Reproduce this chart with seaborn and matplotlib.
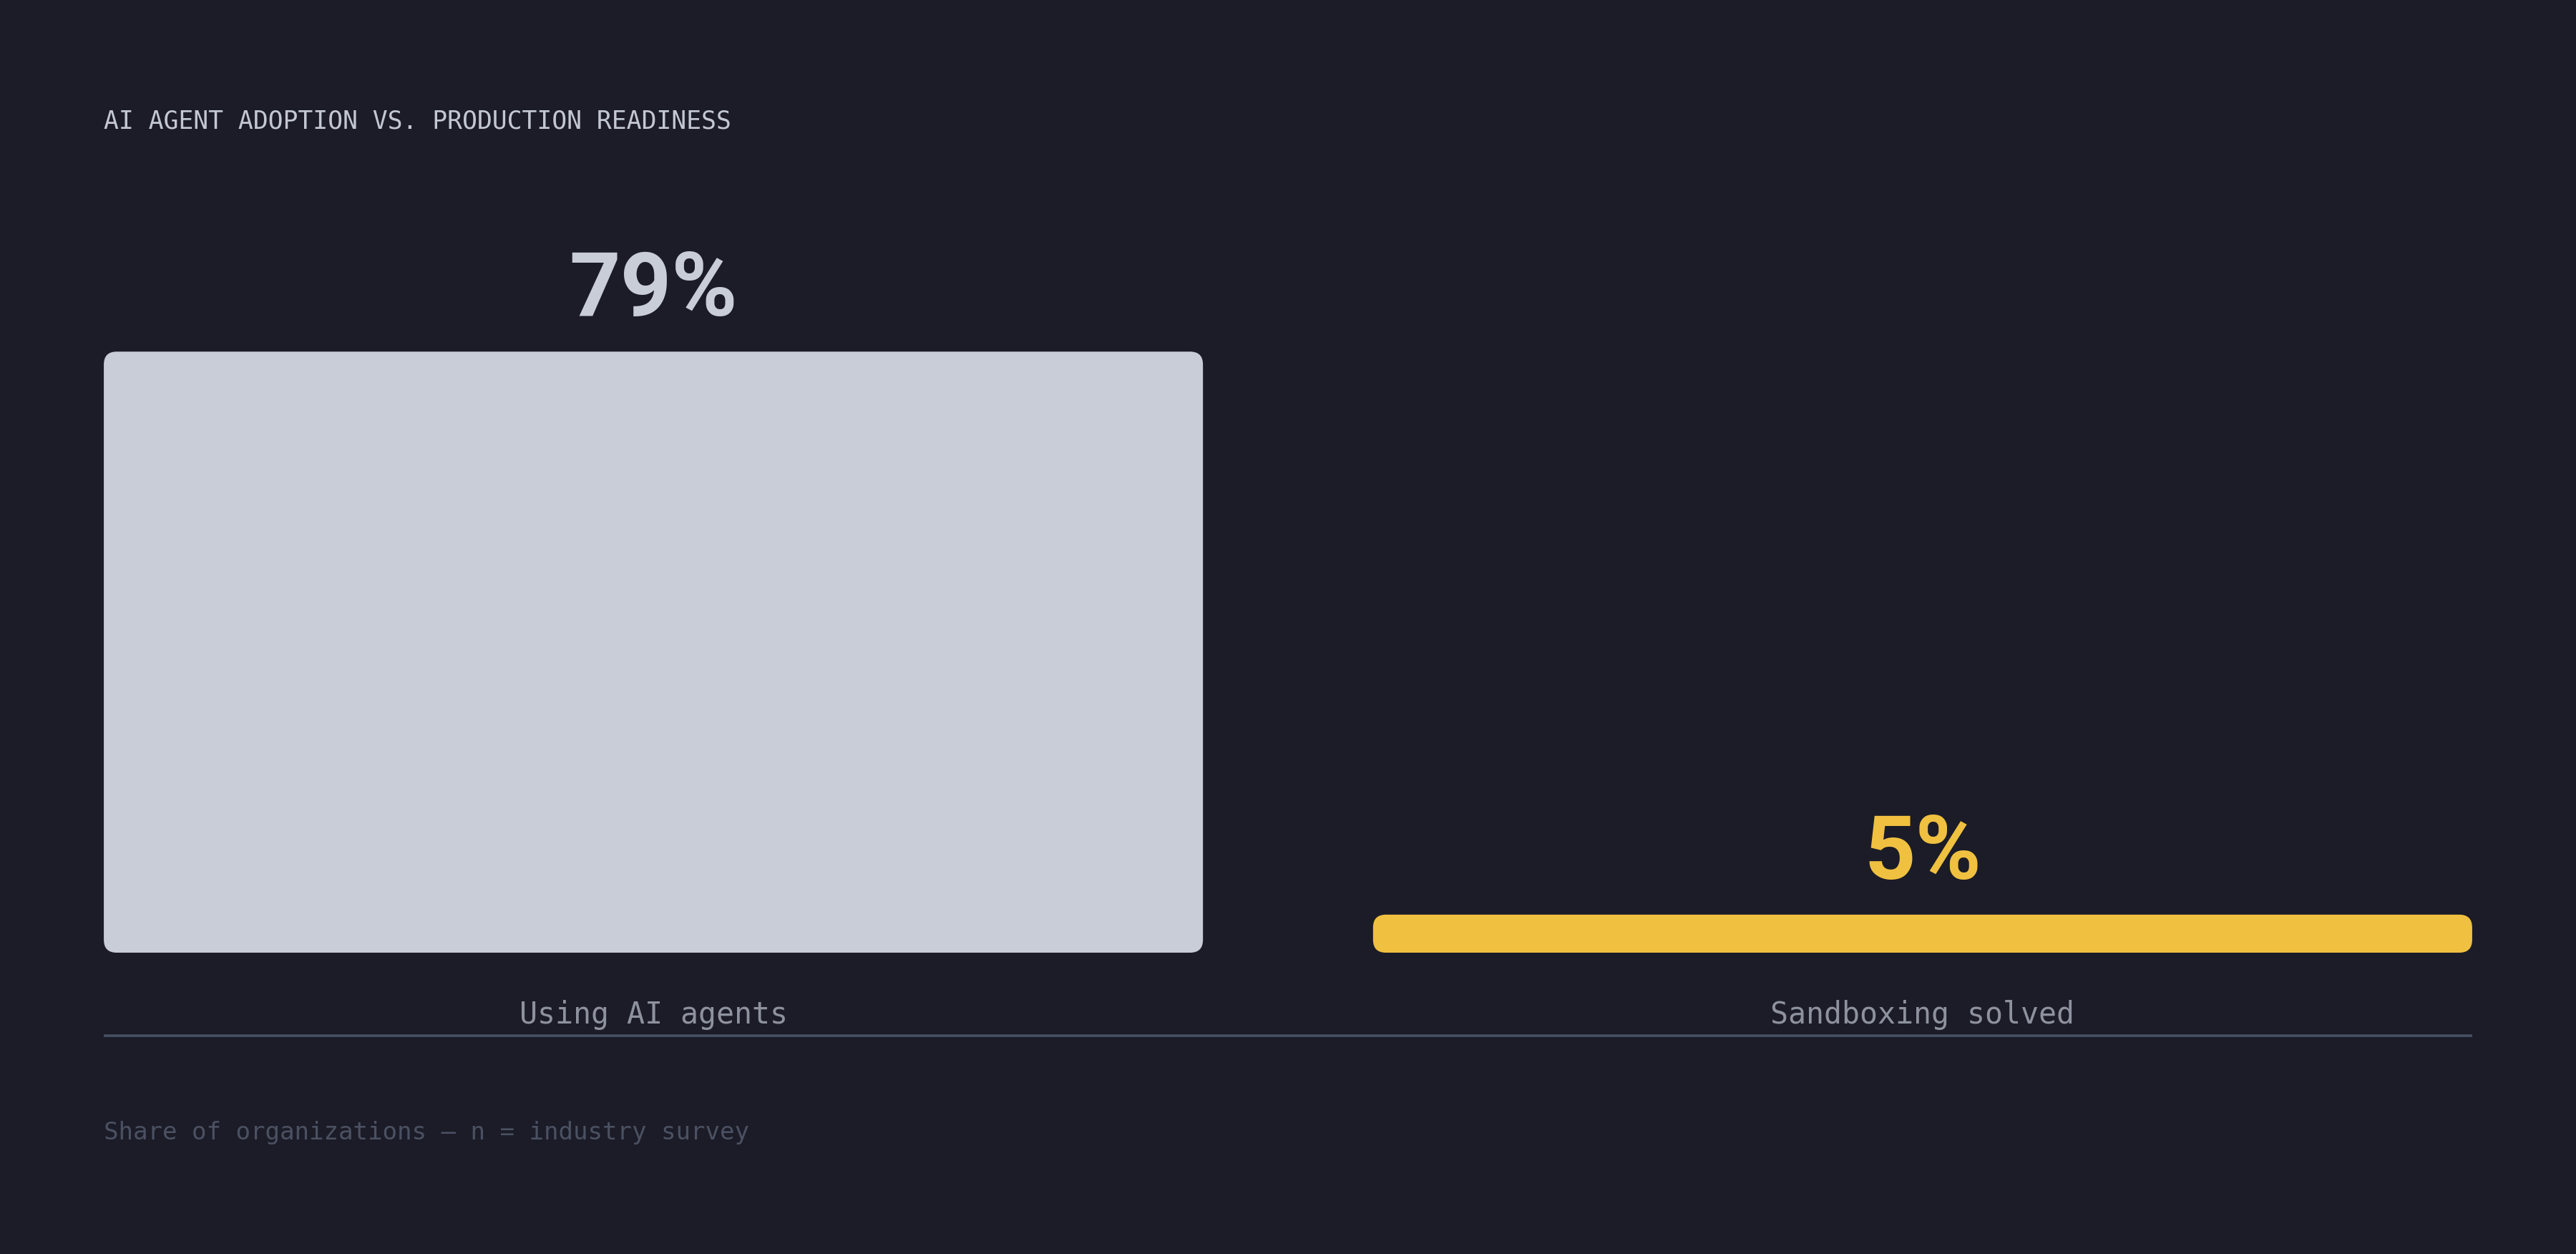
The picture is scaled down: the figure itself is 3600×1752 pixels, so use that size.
import matplotlib
matplotlib.use("Agg")
import matplotlib.pyplot as plt
import seaborn as sns
import pandas as pd
from matplotlib.patches import FancyBboxPatch

# Chart data
categories = ["Using AI agents", "Sandboxing solved"]
values = [79, 5]
bar_colors = ["#c9cdd8", "#f0c040"]
title = "AI AGENT ADOPTION VS. PRODUCTION READINESS"
footer = "Share of organizations \u2014 n = industry survey"

BG = "#1b1c27"
MONO = ["DejaVu Sans Mono", "DejaVu Sans"]

sns.set_theme(style="dark", rc={
    "figure.facecolor": BG,
    "axes.facecolor": BG,
    "savefig.facecolor": BG,
})
plt.rcParams["font.family"] = MONO

df = pd.DataFrame({"category": categories, "value": values})

fig = plt.figure(figsize=(18, 8.76), dpi=200)
ax = fig.add_axes([0.0403, 0.2403, 0.9194, 0.6067])

sns.barplot(data=df, x="category", y="value", hue="category",
            palette=bar_colors, width=0.866, legend=False, ax=ax,
            saturation=1)

ax.set_ylim(0, 100)
ax.set_xlim(-0.433, 1.433)
ax.set_xlabel("")
ax.set_ylabel("")
ax.set_yticks([])
for s in ax.spines.values():
    s.set_visible(False)
ax.grid(False)

# swap plain bars for rounded ones
p0 = ax.transData.transform([[0, 0]])[0]
p1 = ax.transData.transform([[1, 1]])[0]
px_x = p1[0] - p0[0]
px_y = p1[1] - p0[1]
aspect = px_x / px_y
radius_px = 18
for patch in list(ax.patches):
    x, y = patch.get_x(), patch.get_y()
    w, h = patch.get_width(), patch.get_height()
    fc = patch.get_facecolor()
    patch.remove()
    rb = FancyBboxPatch((x, y), w, h,
                        boxstyle=f"round,pad=0,rounding_size={radius_px / px_x}",
                        mutation_aspect=aspect, facecolor=fc, edgecolor="none")
    ax.add_patch(rb)

# value labels above bars
for i, v in enumerate(values):
    ax.annotate(f"{v}%", xy=(i, v), xytext=(0, 18), textcoords="offset points",
                ha="center", va="baseline", fontsize=45, fontweight="bold",
                family=["Roboto", "DejaVu Sans"], color=bar_colors[i])

# category labels
ax.tick_params(axis="x", length=0, pad=35.5, labelsize=15, labelcolor="#8e929e")
for lab in ax.get_xticklabels():
    lab.set_va("baseline")

# baseline rule under the labels
ax.plot([0, 1], [-0.109, -0.109], transform=ax.transAxes, clip_on=False,
        color="#485163", lw=1.3, solid_capstyle="butt")

fig.text(0.0403, 0.8978, title, fontsize=12.5, color="#c3c7d2", va="baseline",
         ha="left", family=MONO)
fig.text(0.0403, 0.0913, footer, fontsize=12.3, color="#4b5162", va="baseline",
         ha="left", family=MONO)

fig.savefig("out.png", dpi=200, facecolor=BG)
